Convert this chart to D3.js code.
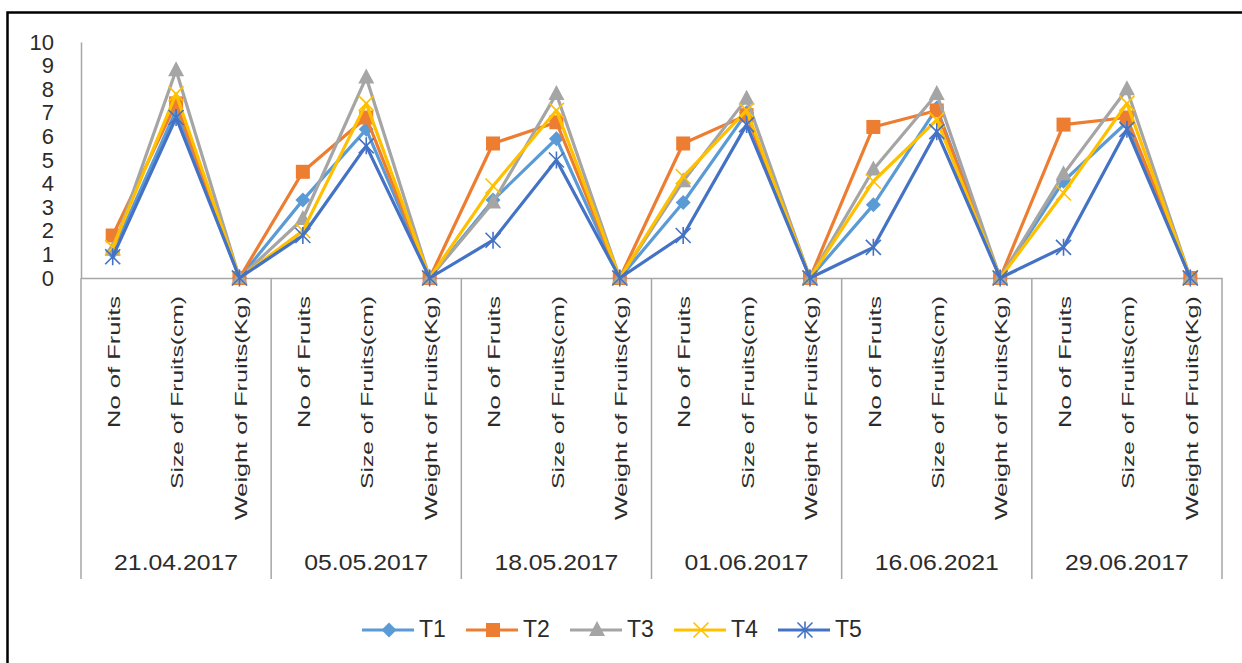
<!DOCTYPE html>
<html>
<head>
<meta charset="utf-8">
<script src="https://cdn.jsdelivr.net/npm/d3@7"></script>
<style>
  html, body { margin: 0; padding: 0; background: #fff; }
  svg { display: block; }
  text { font-family: "Liberation Sans", Arial, sans-serif; fill: #2b2b2b; }
</style>
</head>
<body>
<svg id="chart" width="1242" height="663"></svg>
<script>
// Sampling dates (outer category level)
const dates = ["21.04.2017", "05.05.2017", "18.05.2017", "01.06.2017", "16.06.2021", "29.06.2017"];
// Measured traits (inner category level)
const measures = ["No of Fruits", "Size of Fruits(cm)", "Weight of Fruits(Kg)"];
const yTicks = [0, 1, 2, 3, 4, 5, 6, 7, 8, 9, 10];

// Treatment series, one value per date x measure
const T1 = [1.1, 7.1, 0, 3.3, 6.3, 0, 3.3, 5.9, 0, 3.2, 7.0, 0, 3.1, 7.2, 0, 4.1, 6.6, 0];
const T2 = [1.8, 7.4, 0, 4.5, 6.8, 0, 5.7, 6.6, 0, 5.7, 6.9, 0, 6.4, 7.1, 0, 6.5, 6.8, 0];
const T3 = [1.2, 8.8, 0, 2.5, 8.5, 0, 3.2, 7.8, 0, 4.1, 7.6, 0, 4.6, 7.8, 0, 4.4, 8.0, 0];
const T4 = [1.3, 7.8, 0, 2.0, 7.4, 0, 3.9, 7.1, 0, 4.3, 7.1, 0, 4.1, 6.7, 0, 3.6, 7.4, 0];
const T5 = [0.9, 6.8, 0, 1.8, 5.6, 0, 1.6, 5.0, 0, 1.8, 6.5, 0, 1.3, 6.2, 0, 1.3, 6.3, 0];

const seriesNames = ["T1", "T2", "T3", "T4", "T5"];
const seriesValues = [T1, T2, T3, T4, T5];
const colors = ["#5B9BD5", "#ED7D31", "#A5A5A5", "#FFC000", "#4472C4"];
const markers = ["diamond", "square", "triangle", "x", "star"];

const svg = d3.select("#chart");

// outer frame
svg.append("rect")
  .attr("x", 7.5).attr("y", 12.5)
  .attr("width", 1400).attr("height", 800)
  .attr("fill", "none").attr("stroke", "#000").attr("stroke-width", 2.5);

const plot = { left: 81, right: 1222, top: 42, bottom: 278 };
const catBottom = 579;

const cats = [];
dates.forEach((d, gi) => measures.forEach((m, mi) => cats.push({ key: gi * 3 + mi, date: d, measure: m })));

const x = d3.scalePoint()
  .domain(cats.map(c => c.key))
  .range([plot.left, plot.right])
  .padding(0.5);
const step = x.step();

const y = d3.scaleLinear().domain([0, 10]).range([plot.bottom, plot.top]);

const axisColor = "#A6A6A6";

// y axis
const yAxis = svg.append("g")
  .attr("transform", `translate(${plot.left},0)`)
  .call(d3.axisLeft(y).tickValues(yTicks).tickSize(0).tickPadding(27).tickFormat(d3.format("d")));
yAxis.select(".domain").attr("stroke", axisColor).attr("stroke-width", 1.5);
yAxis.selectAll("text")
  .style("font-size", "22px")
  .style("font-family", "Liberation Sans, Arial, sans-serif")
  .attr("fill", "#2b2b2b");

// x axis baseline
const xAxis = svg.append("g")
  .attr("transform", `translate(0,${plot.bottom})`)
  .call(d3.axisBottom(x).tickSize(0).tickFormat(""));
xAxis.select(".domain").attr("stroke", axisColor).attr("stroke-width", 1.5);

// group dividers
const bounds = d3.range(dates.length + 1).map(i => plot.left + i * 3 * step);
svg.append("g").selectAll("line").data(bounds).join("line")
  .attr("x1", d => d).attr("x2", d => d)
  .attr("y1", plot.bottom).attr("y2", catBottom)
  .attr("stroke", axisColor).attr("stroke-width", 1.5);

// inner category labels (rotated)
const labelLen = { "No of Fruits": 132, "Size of Fruits(cm)": 193, "Weight of Fruits(Kg)": 224 };
svg.append("g").selectAll("text").data(cats).join("text")
  .attr("transform", d => `translate(${x(d.key) + 3},${plot.bottom + 18}) rotate(-90)`)
  .attr("text-anchor", "end")
  .attr("dominant-baseline", "middle")
  .attr("textLength", d => labelLen[d.measure])
  .attr("lengthAdjust", "spacingAndGlyphs")
  .style("font-size", "16px")
  .text(d => d.measure);

// outer date labels
svg.append("g").selectAll("text").data(dates).join("text")
  .attr("x", (d, i) => (bounds[i] + bounds[i + 1]) / 2)
  .attr("y", 570)
  .attr("text-anchor", "middle")
  .attr("textLength", 124)
  .attr("lengthAdjust", "spacingAndGlyphs")
  .style("font-size", "22px")
  .text(d => d);

// marker drawing
function drawMarker(g, type, color, cx, cy) {
  const s = 7.5;
  if (type === "diamond") {
    g.append("path").attr("d", `M${cx},${cy - s}L${cx + s},${cy}L${cx},${cy + s}L${cx - s},${cy}Z`).attr("fill", color);
  } else if (type === "square") {
    g.append("rect").attr("x", cx - 7).attr("y", cy - 7).attr("width", 14).attr("height", 14).attr("fill", color);
  } else if (type === "triangle") {
    g.append("path").attr("d", `M${cx},${cy - 9}L${cx + 8},${cy + 6}L${cx - 8},${cy + 6}Z`).attr("fill", color);
  } else if (type === "x") {
    g.append("path").attr("d", `M${cx - s},${cy - s}L${cx + s},${cy + s}M${cx + s},${cy - s}L${cx - s},${cy + s}`)
      .attr("stroke", color).attr("stroke-width", 1.6).attr("fill", "none");
  } else if (type === "star") {
    g.append("path").attr("d", `M${cx - s},${cy - s}L${cx + s},${cy + s}M${cx + s},${cy - s}L${cx - s},${cy + s}M${cx},${cy - s - 1}L${cx},${cy + s + 1}`)
      .attr("stroke", color).attr("stroke-width", 1.6).attr("fill", "none");
  }
}

const line = d3.line().x((d, i) => x(cats[i].key)).y(d => y(d));

seriesValues.forEach((vals, si) => {
  const g = svg.append("g");
  g.append("path").datum(vals)
    .attr("d", line)
    .attr("fill", "none")
    .attr("stroke", colors[si])
    .attr("stroke-width", 3.2)
    .attr("stroke-linejoin", "round");
  vals.forEach((v, i) => drawMarker(g, markers[si], colors[si], x(cats[i].key), y(v)));
});

// legend
const legend = svg.append("g");
const legendY = 630;
seriesNames.forEach((name, i) => {
  const x0 = 362 + i * 104;
  const g = legend.append("g");
  g.append("line").attr("x1", x0).attr("x2", x0 + 52).attr("y1", legendY).attr("y2", legendY)
    .attr("stroke", colors[i]).attr("stroke-width", 3);
  drawMarker(g, markers[i], colors[i], x0 + 27, legendY);
  g.append("text").attr("x", x0 + 57).attr("y", legendY + 1)
    .attr("dominant-baseline", "middle")
    .style("font-size", "23px")
    .text(name);
});
</script>
</body>
</html>
